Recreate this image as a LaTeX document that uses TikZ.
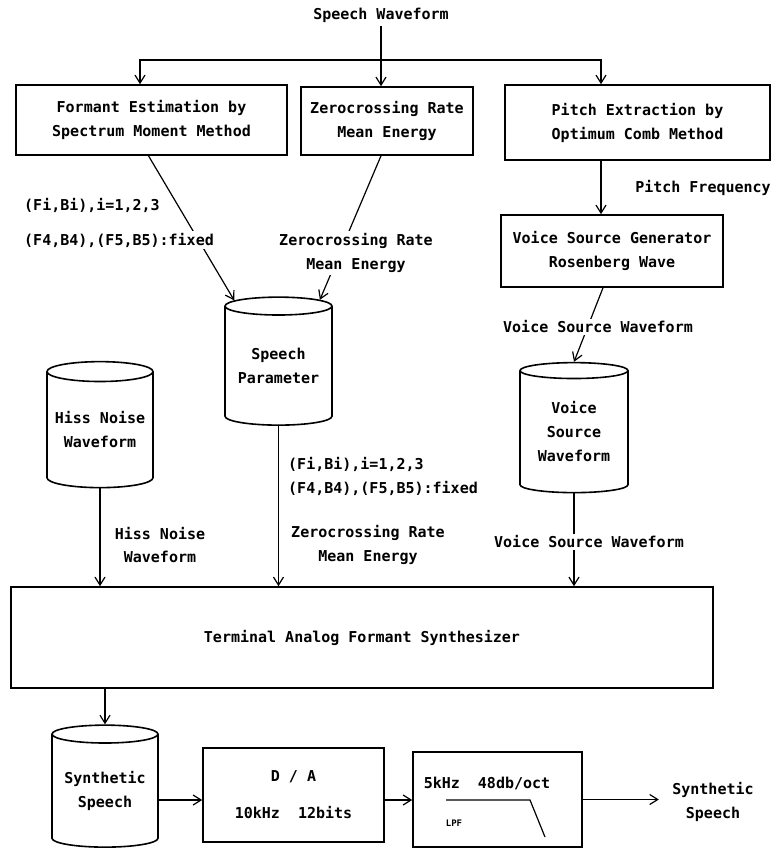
\documentclass[tikz,border=0pt]{standalone}
\usepackage{fontspec}
\setmonofont{DejaVu Sans Mono}
\usetikzlibrary{arrows.meta,shapes.geometric}
\newcommand*{\bordw}{1.6pt}
\newcommand*{\linew}{1.2pt}
\tikzset{
	block/.style n args={2}{
		rectangle,
		draw,
		line width = \bordw,
		minimum width = #1,
		minimum height = #2,
		align = center,
		inner sep = 0pt,
		},
	store/.style n args={2}{
		cylinder,
		shape border rotate = 90,
		aspect = 0.22,
		draw,
		line width = \bordw,
		minimum width = #1,
		minimum height = #2,
		align = center,
		inner sep = 0pt,
		},
	tag/.style={
		fill = white,
		inner sep = 2pt,
		align = center,
		},
	flow/.style={
		-{Straight Barb[length=8pt,width=10pt]},
		line width = \linew,
		}
	}
\begin{document}
\begin{tikzpicture}[x=1pt, y=-1pt, font={\ttfamily\bfseries\fontsize{15}{24}\selectfont}]
	\useasboundingbox (0,0) rectangle (777,855);
	% analysis stage
	\node (wave) at (381,15) {Speech Waveform};
	\coordinate (fork) at (381,60);
	\node (fem) [block={271}{70}] at (151.5,120) {Formant Estimation by\\Spectrum Moment Method};
	\node (zcr) [block={172}{68}] at (387,121) {Zerocrossing Rate\\Mean Energy};
	\node (pex) [block={265}{75}] at (637.5,122.5) {Pitch Extraction by\\Optimum Comb Method};
	\node (vsg) [block={222}{72}] at (612,251) {Voice Source Generator\\Rosenberg Wave};
	\draw [line width=\linew] (wave) -- (fork);
	\draw [flow] (fork) -- (fork |- zcr.north);
	\draw [flow] (fork) -| ([xshift=-11.5]fem.north);
	\draw [flow] (fork) -| ([xshift=-36.5]pex.north);
	\draw [flow] ([xshift=-36.5]pex.south) -- ([xshift=-36.5]pex.south |- vsg.north);
	% stores
	\node (spar) [store={107}{128}] at (278.5,366) {Speech\\Parameter};
	\node (hiss) [store={106}{126}] at (100,430) {Hiss Noise\\Waveform};
	\node (vsw)  [store={108}{130}] at (574,432) {Voice\\Source\\Waveform};
	\draw [flow] ([xshift=-3]fem.south) -- (spar.124);
	\draw [flow] ([xshift=-6]zcr.south) -- (spar.58);
	\draw [flow] ([xshift=-9]vsg.south) -- (vsw.north);
	% synthesis stage
	\node (tafs) [block={702}{101}] at (362,637.5) {Terminal Analog Formant Synthesizer};
	\foreach \src in {hiss,spar,vsw} {
		\draw [flow] (\src.south) -- (\src.south |- tafs.north);
	}
	\node (syn) [store={106}{122}] at (105,791) {Synthetic\\Speech};
	\node (da)  [block={181}{94}] at (293.5,795) {D / A\\[13pt]10kHz\ \ 12bits};
	\node (lpf) [block={169}{95}] at (497.5,799.5) {};
	\node (lpfhead) at (487,783) {5kHz\ \ 48db/oct};
	\node (lpftag) at (454,823) {\fontsize{9}{10}\selectfont LPF};
	\draw [line width=\linew] (446,800) -- (530,800) -- (545,837);
	\node (outlbl) [align=center] at (713,802) {Synthetic\\Speech};
	\draw [flow] (tafs.south -| syn.north) -- (syn.north);
	\draw [flow] ([yshift=-5]da.west -| syn.east) -- ([yshift=-5]da.west);
	\draw [flow] ([yshift=-5]da.east) -- ([yshift=-5]da.east -| lpf.west);
	\draw [flow, shorten >=10pt] (lpf.east) -- (lpf.east -| outlbl.west);
	% labels
	\node (fblo) [tag, anchor=west] at (22,205) {(Fi,Bi),i=1,2,3};
	\node (fbhi) [tag, anchor=west] at (22,240) {(F4,B4),(F5,B5):fixed};
	\node (zctop) [tag] at (356,253) {Zerocrossing Rate\\Mean Energy};
	\node (pfq) at (703,188) {Pitch Frequency};
	\node (vstop) [tag] at (598,327) {Voice Source Waveform};
	\node (hslbl) [tag] at (160,545) {Hiss Noise\\Waveform};
	\node (splbl) [tag, anchor=west, align=left] at (286,476) {(Fi,Bi),i=1,2,3\\(F4,B4),(F5,B5):fixed};
	\node (zclbl) [tag] at (368,545) {Zerocrossing Rate\\Mean Energy};
	\node (vslbl) [tag] at (589,542) {Voice Source Waveform};
\end{tikzpicture}
\end{document}
